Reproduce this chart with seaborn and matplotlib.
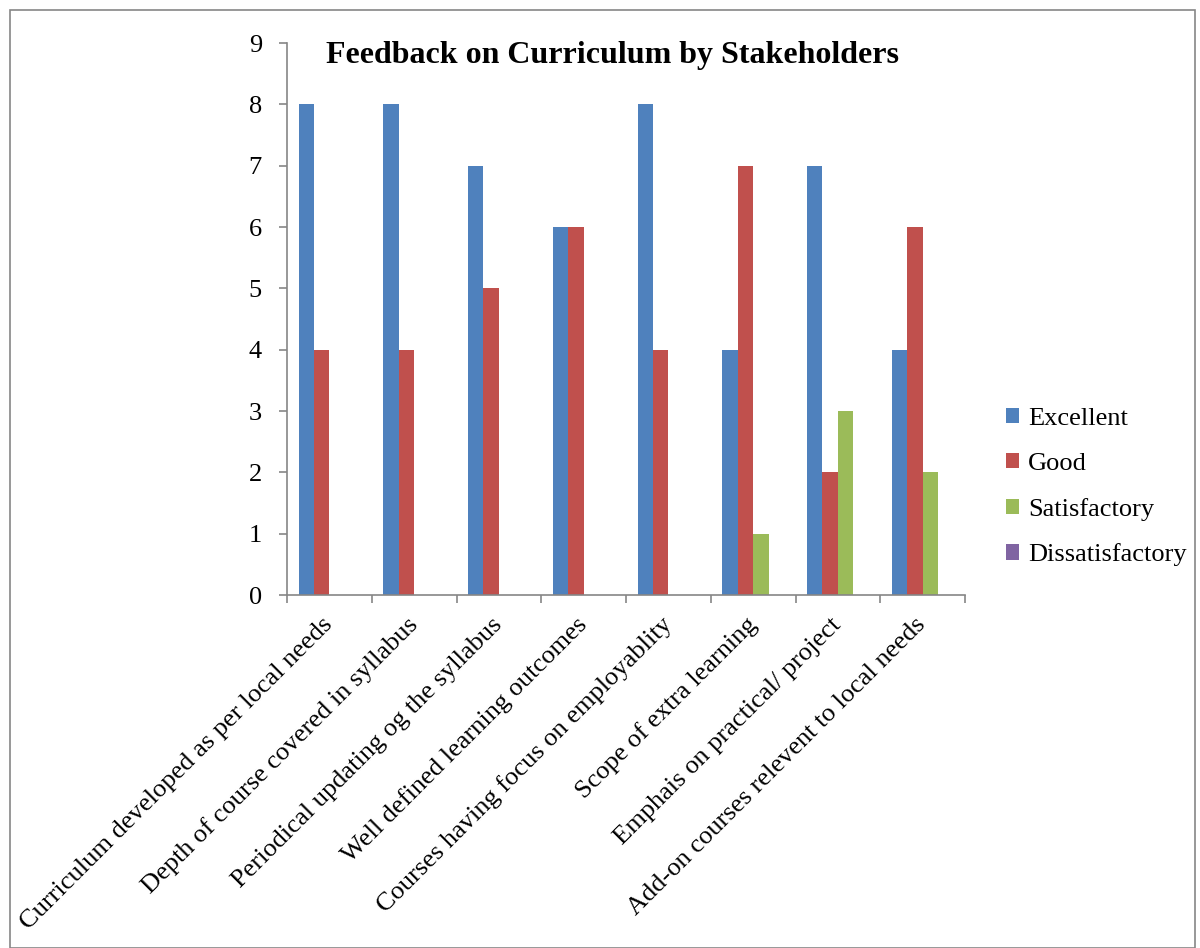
import pandas as pd
import seaborn as sns
import matplotlib.pyplot as plt
from matplotlib.patches import Rectangle

categories = [
    "Curriculum developed as per local needs",
    "Depth of course covered in syllabus",
    "Periodical updating og the syllabus",
    "Well defined learning outcomes",
    "Courses having focus on employablity",
    "Scope of extra learning",
    "Emphais on practical/ project",
    "Add-on courses relevent to local needs",
]
excellent = [8, 8, 7, 6, 8, 4, 7, 4]
good = [4, 4, 5, 6, 4, 7, 2, 6]
satisfactory = [0, 0, 0, 0, 0, 1, 3, 2]
dissatisfactory = [0, 0, 0, 0, 0, 0, 0, 0]

series = ["Excellent", "Good", "Satisfactory", "Dissatisfactory"]
colors = ["#4F81BD", "#C0504D", "#9BBB59", "#8064A2"]

rows = []
for name, vals in zip(series, [excellent, good, satisfactory, dissatisfactory]):
    for cat, v in zip(categories, vals):
        rows.append({"category": cat, "rating": name, "count": v})
df = pd.DataFrame(rows)

sns.set_style("white")
plt.rcParams['font.family'] = ['Liberation Serif', 'DejaVu Serif']
plt.rcParams['text.color'] = 'black'
plt.rcParams['xtick.color'] = 'black'
plt.rcParams['ytick.color'] = 'black'

fig = plt.figure(figsize=(12, 9.48), dpi=100)
ax = fig.add_axes([287 / 1200, 1 - 595 / 948, 678 / 1200, 552 / 948])

sns.barplot(data=df, x="category", y="count", hue="rating", hue_order=series,
            palette=colors, order=categories, width=4 / 5.5, gap=0,
            saturation=1, edgecolor="none", ax=ax)

ax.set_ylim(0, 9)
ax.set_xlim(-0.5, len(categories) - 0.5)
ax.set_yticks(range(10))
ax.set_xlabel("")
ax.set_ylabel("")

# ticks at category boundaries, labels at centres
ax.set_xticks([i + 0.5 for i in range(-1, len(categories))], minor=False)
ax.set_xticklabels([])
ax.set_xticks(range(len(categories)), minor=True)
ax.set_xticklabels(categories, minor=True, rotation=45, ha="right",
                   va="center", rotation_mode="anchor", fontsize=19)
ax.tick_params(axis="x", which="minor", length=0, pad=19)
ax.tick_params(axis="x", which="major", length=6, width=1.2, color="#868686",
               direction="out", bottom=True)
ax.tick_params(axis="y", length=6, width=1.2, color="#868686", direction="out",
               left=True, labelsize=19, pad=12, labelcolor="black")

for s in ["top", "right"]:
    ax.spines[s].set_visible(False)
for s in ["left", "bottom"]:
    ax.spines[s].set_color("#868686")
    ax.spines[s].set_linewidth(1.2)

fig.text(612 / 1200, 1 - 56 / 948, "Feedback on Curriculum by Stakeholders",
         ha="center", va="center", fontsize=23, fontweight="bold")

sns.move_legend(ax, loc="center left", bbox_to_anchor=(1.025, 0.195),
                frameon=False, title=None, fontsize=19, handlelength=0.5,
                handleheight=0.5, labelspacing=0.86, handletextpad=0.35)

fig.patches.append(Rectangle((10 / 1200, 0), 1185 / 1200, 1 - 10 / 948,
                             transform=fig.transFigure, fill=False,
                             edgecolor="#868686", linewidth=1.2))

fig.savefig("out.png", dpi=100)
